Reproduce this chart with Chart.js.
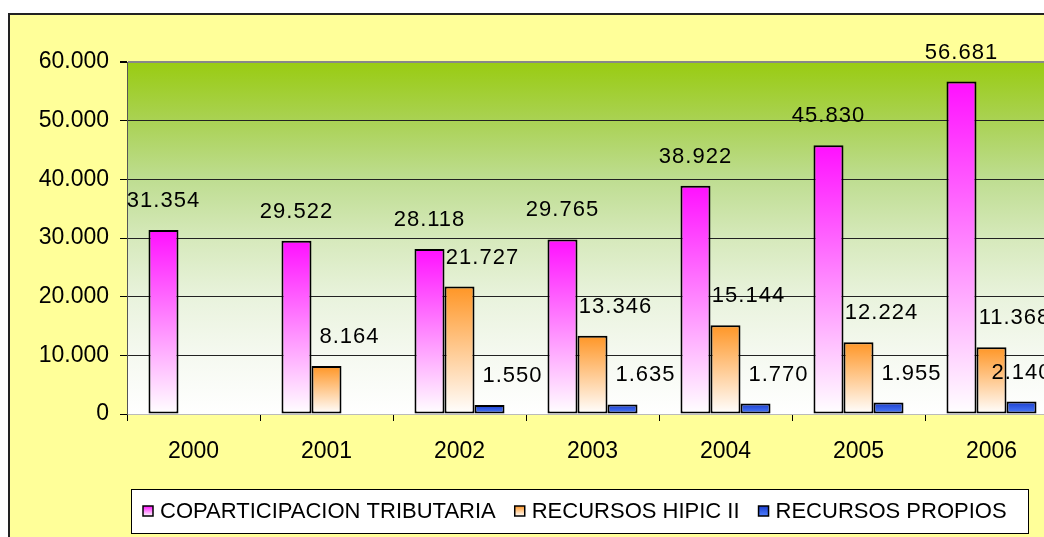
<!DOCTYPE html>
<html>
<head>
<title>Coparticipacion / Recursos 2000-2006</title>
<script src="https://cdn.jsdelivr.net/npm/chart.js"></script>
<style>
body { margin: 0; overflow: hidden; background: #fff; }
#wrap { width: 1100px; height: 537px; }
</style>
</head>
<body>
<div id="wrap"><canvas id="myChart" width="1100" height="537"></canvas></div>
<script>
// datos
const years = ['2000', '2001', '2002', '2003', '2004', '2005', '2006'];
const coparticipacion = [31354, 29522, 28118, 29765, 38922, 45830, 56681];
const hipic = [null, 8164, 21727, 13346, 15144, 12224, 11368];
const propios = [null, null, 1550, 1635, 1770, 1955, 2140];
const seriesNames = ['COPARTICIPACION TRIBUTARIA', 'RECURSOS HIPIC II', 'RECURSOS PROPIOS'];
const yTicks = [0, 10000, 20000, 30000, 40000, 50000, 60000];

const FONT = 'Liberation Sans, Arial, sans-serif';
const colorsTop = ['#ff10ff', '#ff9626', '#1a3ccc'];
const colorsBottom = ['#ffffff', '#ffffff', '#4f80ff'];

function fmt(v) {
    return String(v).replace(/\B(?=(\d{3})+(?!\d))/g, '.');
}

// degradado vertical por barra
function barFill(i) {
    return function (c) {
        const chart = c.chart;
        if (!chart.chartArea || c.raw == null) return colorsTop[i];
        const y = chart.scales.y;
        const top = y.getPixelForValue(c.raw);
        const bottom = y.getPixelForValue(0);
        const g = chart.ctx.createLinearGradient(0, top, 0, bottom);
        g.addColorStop(0, colorsTop[i]);
        g.addColorStop(1, colorsBottom[i]);
        return g;
    };
}

const fondo = {
    id: 'fondo',
    beforeDraw(chart) {
        const ctx = chart.ctx;
        const a = chart.chartArea;
        ctx.save();
        ctx.fillStyle = '#ffffff';
        ctx.fillRect(0, 0, chart.width, chart.height);
        ctx.fillStyle = '#ffff99';
        ctx.fillRect(8, 13, chart.width, chart.height);
        ctx.strokeStyle = '#222';
        ctx.lineWidth = 2;
        ctx.beginPath();
        ctx.moveTo(9, chart.height + 2);
        ctx.lineTo(9, 14);
        ctx.lineTo(chart.width + 2, 14);
        ctx.stroke();
        const g = ctx.createLinearGradient(0, a.top, 0, a.bottom);
        g.addColorStop(0, '#99cc11');
        g.addColorStop(0.17, '#aad255');
        g.addColorStop(0.33, '#bedd90');
        g.addColorStop(0.5, '#d6e9bb');
        g.addColorStop(0.67, '#e9f3dd');
        g.addColorStop(0.83, '#f5f9f0');
        g.addColorStop(1, '#ffffff');
        ctx.fillStyle = g;
        ctx.fillRect(a.left, a.top, a.right - a.left, a.bottom - a.top);
        ctx.restore();
    }
};

const etiquetas = {
    id: 'etiquetas',
    afterDatasetsDraw(chart) {
        const ctx = chart.ctx;
        const shift = [0, 23, 23];
        const maxRight = chart.chartArea.right - 7;
        ctx.save();
        ctx.font = '22px ' + FONT;
        ctx.letterSpacing = '1px';
        ctx.fillStyle = '#000';
        ctx.textAlign = 'center';
        ctx.textBaseline = 'middle';
        chart.data.datasets.forEach((ds, i) => {
            chart.getDatasetMeta(i).data.forEach((el, j) => {
                const v = ds.data[j];
                if (v == null) return;
                const txt = fmt(v);
                const half = ctx.measureText(txt).width / 2;
                let x = el.x + shift[i];
                if (x + half > maxRight) x = Math.max(el.x, maxRight - half);
                ctx.fillText(txt, x, el.y - 29);
            });
        });
        ctx.restore();
    }
};

const leyenda = {
    id: 'leyenda',
    afterDraw(chart) {
        const ctx = chart.ctx;
        ctx.save();
        ctx.fillStyle = '#ffffff';
        ctx.fillRect(131, 489, 897, 44);
        ctx.strokeStyle = '#000';
        ctx.lineWidth = 1;
        ctx.strokeRect(131.5, 489.5, 897, 44);
        ctx.font = '22px ' + FONT;
        ctx.textBaseline = 'middle';
        let x = 143;
        const cy = 511;
        seriesNames.forEach((name, i) => {
            const g = ctx.createLinearGradient(0, cy - 5, 0, cy + 5);
            g.addColorStop(0, colorsTop[i]);
            g.addColorStop(1, colorsBottom[i]);
            ctx.fillStyle = g;
            ctx.fillRect(x, cy - 5, 10, 10);
            ctx.strokeStyle = '#000';
            ctx.lineWidth = 1.5;
            ctx.strokeRect(x, cy - 5, 10, 10);
            x += 17;
            ctx.fillStyle = '#000';
            ctx.fillText(name, x, cy + 1);
            x += ctx.measureText(name).width + 19;
        });
        ctx.restore();
    }
};

const ctx = document.getElementById('myChart').getContext('2d');
new Chart(ctx, {
    type: 'bar',
    data: {
        labels: years,
        datasets: [
            { label: seriesNames[0], data: coparticipacion, backgroundColor: barFill(0) },
            { label: seriesNames[1], data: hipic, backgroundColor: barFill(1) },
            { label: seriesNames[2], data: propios, backgroundColor: barFill(2) }
        ]
    },
    options: {
        responsive: false,
        animation: false,
        events: [],
        layout: { padding: { left: 27, top: 62, right: 42, bottom: 0 } },
        datasets: {
            bar: {
                borderColor: '#000',
                borderWidth: 2,
                borderSkipped: false,
                categoryPercentage: 0.677,
                barPercentage: 1
            }
        },
        plugins: {
            legend: { display: false },
            tooltip: { enabled: false }
        },
        scales: {
            x: {
                afterFit(s) { s.height = 123; },
                grid: { display: true, drawOnChartArea: false, drawTicks: true, tickLength: 7, color: '#000', offset: true },
                border: { color: '#bbbbbb', width: 1 },
                ticks: { color: '#000', font: { family: FONT, size: 23 }, padding: 17 }
            },
            y: {
                min: 0,
                max: 60000,
                afterFit(s) { s.width = 100; },
                afterBuildTicks(s) { s.ticks = yTicks.map(v => ({ value: v })); },
                grid: {
                    color: c => (c.tick && c.tick.value === 60000) ? '#888888' : '#222222',
                    lineWidth: c => (c.tick && c.tick.value === 60000) ? 2 : 1,
                    tickColor: '#000',
                    tickLength: 7
                },
                border: { color: '#555555', width: 1 },
                ticks: {
                    color: '#000',
                    font: { family: FONT, size: 23 },
                    padding: 11,
                    callback: v => fmt(v)
                }
            }
        }
    },
    plugins: [fondo, etiquetas, leyenda]
});
</script>
</body>
</html>
